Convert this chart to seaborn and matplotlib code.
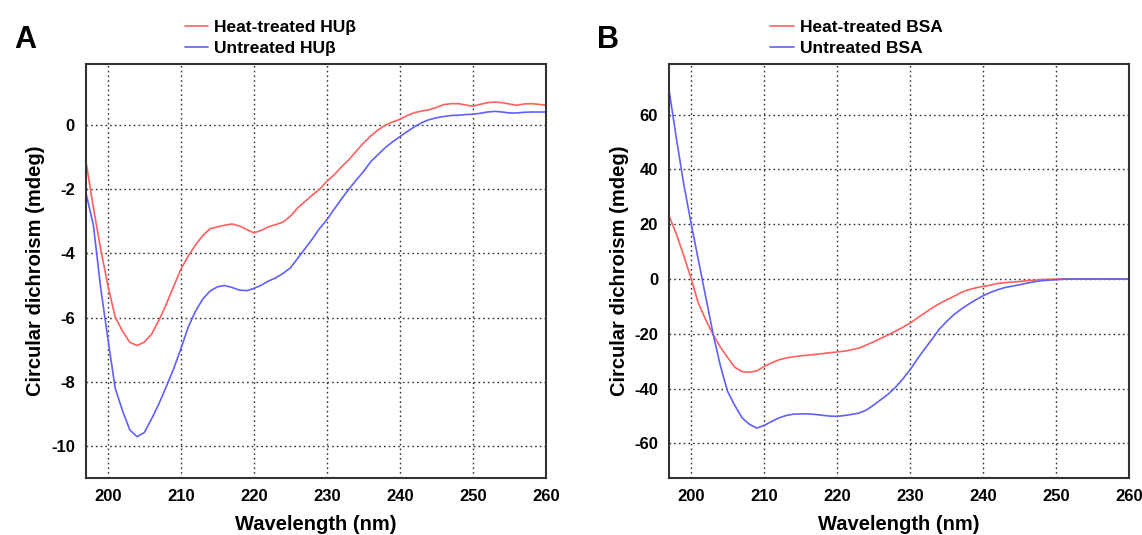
import numpy as np
import pandas as pd
import matplotlib
matplotlib.use("Agg")
import matplotlib.pyplot as plt
import seaborn as sns

# wavelength grid (nm), 1 nm steps
wavelength = list(range(197, 261))

# panel A: HUbeta CD signal (mdeg)
hub_heat = [-1.14, -2.55, -3.85, -5.00, -5.98, -6.42, -6.77, -6.87, -6.76, -6.51,
            -6.08, -5.58, -5.03, -4.49, -4.08, -3.74, -3.44, -3.23, -3.17, -3.12,
            -3.08, -3.14, -3.25, -3.36, -3.28, -3.17, -3.10, -3.02, -2.84, -2.58,
            -2.38, -2.18, -2.00, -1.75, -1.55, -1.30, -1.08, -0.82, -0.56, -0.34,
            -0.15, 0.00, 0.10, 0.18, 0.30, 0.39, 0.44, 0.48, 0.55, 0.64,
            0.67, 0.67, 0.63, 0.59, 0.65, 0.70, 0.72, 0.70, 0.66, 0.62,
            0.66, 0.67, 0.65, 0.62]
hub_untreated = [-2.12, -3.10, -5.05, -6.66, -8.20, -8.90, -9.50, -9.71, -9.58, -9.15,
                 -8.68, -8.15, -7.60, -6.97, -6.30, -5.80, -5.42, -5.17, -5.04, -5.00,
                 -5.06, -5.14, -5.16, -5.09, -4.99, -4.86, -4.76, -4.62, -4.45, -4.15,
                 -3.85, -3.55, -3.22, -2.95, -2.62, -2.30, -2.00, -1.72, -1.45, -1.14,
                 -0.92, -0.70, -0.52, -0.36, -0.20, -0.05, 0.08, 0.17, 0.23, 0.27,
                 0.30, 0.31, 0.33, 0.34, 0.37, 0.41, 0.43, 0.41, 0.38, 0.38,
                 0.40, 0.41, 0.41, 0.41]

# panel B: BSA CD signal (mdeg)
bsa_heat = [22.9, 16.3, 8.5, 0.2, -8.9, -14.8, -20.2, -24.8, -28.6, -32.2,
            -33.8, -34.0, -33.5, -31.9, -30.6, -29.5, -28.8, -28.4, -28.0, -27.8,
            -27.5, -27.2, -26.9, -26.6, -26.3, -25.8, -25.2, -24.1, -22.9, -21.6,
            -20.4, -19.0, -17.6, -16.1, -14.2, -12.4, -10.6, -9.0, -7.6, -6.3,
            -4.9, -3.9, -3.2, -2.7, -2.2, -1.6, -1.3, -1.1, -0.9, -0.6,
            -0.4, -0.2, -0.1, 0.0, 0.0, 0.0, 0.0, 0.0, 0.0, 0.0,
            0.0, 0.0, 0.0, 0.0]
bsa_untreated = [68.6, 51.0, 34.5, 20.3, 6.9, -6.5, -19.8, -31.5, -41.0, -46.2,
                 -50.7, -53.0, -54.4, -53.4, -52.0, -50.7, -49.8, -49.3, -49.2, -49.2,
                 -49.4, -49.7, -50.0, -50.1, -49.8, -49.4, -48.9, -47.8, -46.0, -44.0,
                 -42.0, -39.5, -36.5, -33.1, -29.2, -25.5, -22.0, -18.3, -15.5, -13.0,
                 -11.0, -9.2, -7.6, -6.1, -4.9, -3.9, -3.1, -2.6, -2.1, -1.5,
                 -1.0, -0.6, -0.4, -0.25, -0.1, 0.0, 0.0, 0.0, 0.0, 0.0,
                 0.0, 0.0, 0.0, 0.0]

red = "#ff6060"
blue = "#6060ff"

sns.set_style("white")
plt.rcParams['font.family'] = ['Liberation Sans', 'DejaVu Sans']
plt.rcParams['font.weight'] = 'bold'
plt.rcParams['axes.unicode_minus'] = False
plt.rcParams['text.color'] = 'black'
plt.rcParams['axes.labelcolor'] = 'black'
plt.rcParams['xtick.color'] = 'black'
plt.rcParams['ytick.color'] = 'black'

fig = plt.figure(figsize=(11.42, 5.35), dpi=100)
axA = fig.add_axes([0.0753, 0.1065, 0.4027, 0.7735])
axB = fig.add_axes([0.586, 0.1065, 0.4026, 0.7735])

panels = [
    (axA, hub_heat, hub_untreated, "HU\u03b2", (-11, 1.9), [-10, -8, -6, -4, -2, 0], "A", 0.188),
    (axB, bsa_heat, bsa_untreated, "BSA", (-72.6, 78.4), [-60, -40, -20, 0, 20, 40, 60], "B", 0.193),
]

for ax, heat, untreated, name, ylim, yticks, letter, legx in panels:
    df = pd.DataFrame({"wl": wavelength, "heat": heat, "untreated": untreated})
    sns.lineplot(data=df, x="wl", y="heat", color=red, lw=1.2, ax=ax,
                 label="Heat-treated " + name)
    sns.lineplot(data=df, x="wl", y="untreated", color=blue, lw=1.2, ax=ax,
                 label="Untreated " + name)
    ax.set_xlim(197, 260)
    ax.set_ylim(*ylim)
    ax.set_xticks(range(200, 261, 10))
    ax.set_yticks(yticks)
    ax.grid(True, color="#333333", linestyle=(0, (1.2, 2.2)), linewidth=1)
    ax.tick_params(axis="both", length=0, labelsize=12, pad=8)
    for lab in ax.get_xticklabels() + ax.get_yticklabels():
        lab.set_fontweight("bold")
    for sp in ax.spines.values():
        sp.set_color("#333333")
        sp.set_linewidth(1.5)
    ax.set_xlabel("Wavelength (nm)", fontsize=14.5, fontweight="bold", labelpad=8)
    ax.set_ylabel("Circular dichroism (mdeg)", fontsize=14.5, fontweight="bold", labelpad=4)
    bb = ax.get_position()
    ax.legend(loc="lower left", bbox_to_anchor=(legx, 0.99),
              frameon=False, fontsize=12.5, handlelength=1.35, handletextpad=0.35,
              labelspacing=0.35, borderaxespad=0.3)
    fig.text(bb.x0 - 0.063, 0.925, letter, fontsize=22, fontweight="bold",
             ha="left", va="center")

fig.savefig("out.png", dpi=100)
